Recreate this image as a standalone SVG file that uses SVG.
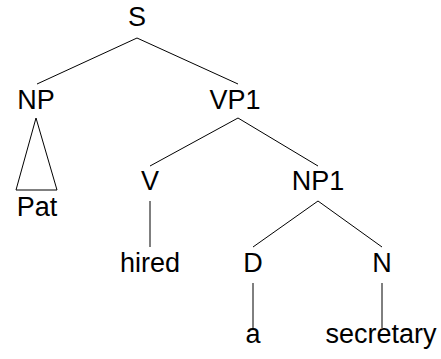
<svg xmlns="http://www.w3.org/2000/svg" width="441" height="359" viewBox="0 0 441 359">
  <style>
    text { font-family: "Liberation Sans", Arial, sans-serif; font-size: 27px; fill: #000; text-anchor: middle; }
    .edge { stroke: #000; stroke-width: 1; fill: none; }
  </style>
  <rect width="441" height="359" fill="#fff"/>
  <g id="edges">
    <line class="edge" x1="137" y1="38" x2="37" y2="84"/>
    <line class="edge" x1="137" y1="38" x2="238" y2="84"/>
    <polygon class="edge" points="36,118 16,190 57,190"/>
    <line class="edge" x1="238" y1="118" x2="150" y2="166"/>
    <line class="edge" x1="238" y1="118" x2="318" y2="166"/>
    <line class="edge" x1="150" y1="201" x2="150" y2="247"/>
    <line class="edge" x1="318" y1="201" x2="253" y2="247"/>
    <line class="edge" x1="318" y1="201" x2="382" y2="247"/>
    <line class="edge" x1="253" y1="283" x2="253" y2="328"/>
    <line class="edge" x1="382" y1="283" x2="382" y2="328"/>
  </g>
  <g id="S"><text x="137" y="26">S</text></g>
  <g id="NP"><text x="36" y="109">NP</text></g>
  <g id="VP1"><text x="235" y="109">VP1</text></g>
  <g id="Pat"><text x="37" y="216">Pat</text></g>
  <g id="V"><text x="150" y="190">V</text></g>
  <g id="NP1"><text x="318" y="190">NP1</text></g>
  <g id="hired"><text x="150" y="272">hired</text></g>
  <g id="D"><text x="253" y="272">D</text></g>
  <g id="N"><text x="382" y="272">N</text></g>
  <g id="a"><text x="253" y="343">a</text></g>
  <g id="secretary"><text x="381" y="343">secretary</text></g>
</svg>
